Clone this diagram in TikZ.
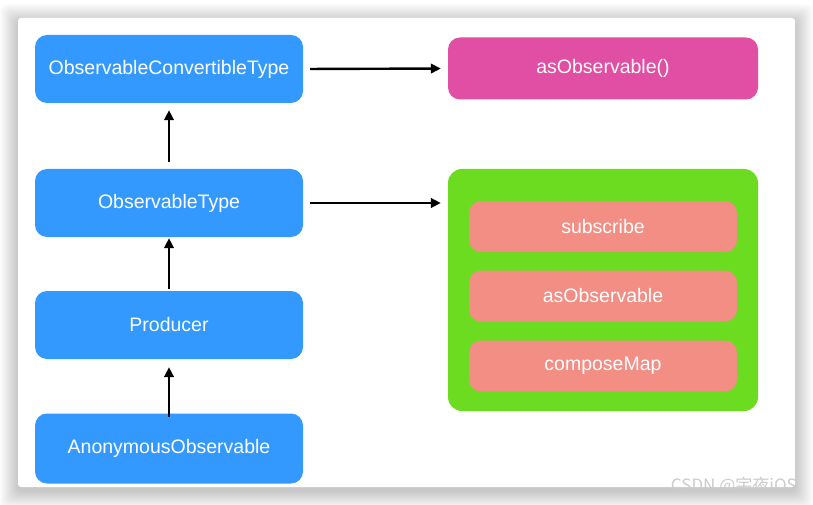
\documentclass[tikz,border=0pt]{standalone}
\usepackage{fontspec}
\setmainfont{Liberation Sans}
\newfontfamily\cjkfont{Noto Sans CJK SC}
\usetikzlibrary{arrows.meta}

\definecolor{typeblue}{RGB}{51,153,255}
\definecolor{convpink}{RGB}{224,79,163}
\definecolor{protogreen}{RGB}{107,220,31}
\definecolor{methodred}{RGB}{242,142,132}

\begin{document}
\begin{tikzpicture}[x=1pt, y=-1pt,
        typebox/.style={fill=typeblue, rounded corners=12pt, minimum width=268pt, text=white,
            font=\fontsize{19.5}{23}\selectfont, inner sep=0pt},
        methodbox/.style={fill=methodred, rounded corners=12pt, minimum width=268pt, minimum height=51pt,
            text=white, font=\fontsize{19.5}{23}\selectfont, inner sep=0pt},
        link/.style={-{Triangle[length=10pt, width=9.5pt]}, line width=2.4pt}]
        \useasboundingbox (0,0) rectangle (813,505);
        \fill[white] (0,0) rectangle (813,505);
        % Card shadow
        \foreach \s in {1,...,18}
            \fill[black, opacity=0.011, rounded corners=6pt] (18-\s,18-\s+4) rectangle (795+\s,487+\s+4);
        \fill[white, rounded corners=3pt] (18,18) rectangle (795,487);
        % Type chain on the left
        \node[typebox, minimum height=68pt] (conv) at (169,69) {ObservableConvertibleType};
        \node[typebox, minimum height=68pt] (otype) at (169,203) {ObservableType};
        \node[typebox, minimum height=68pt] (prod) at (169,325) {Producer};
        \node[typebox, minimum height=70pt] (anon) at (169,448.5) {AnonymousObservable};
        % What each protocol offers
        \node[fill=convpink, rounded corners=12pt, minimum width=310pt, minimum height=62pt, text=white,
            font=\fontsize{19.5}{23}\selectfont, inner sep=0pt] (asobs) at (603,68.5) {asObservable()};
        \node[fill=protogreen, rounded corners=14pt, minimum width=310pt, minimum height=242pt,
            inner sep=0pt] (group) at (603,290) {};
        \node[methodbox] (subs) at (603,226.5) {subscribe};
        \node[methodbox] (asobs2) at (603,296) {asObservable};
        \node[methodbox] (cmap) at (603,366) {composeMap};
        % Inheritance arrows
        \draw[link, shorten <=7pt, shorten >=7pt] (otype.north) -- (conv.south);
        \draw[link, shorten <=2pt, shorten >=1pt] (prod.north) -- (otype.south);
        \draw[link, shorten <=-4pt, shorten >=8pt] (anon.north) -- (prod.south);
        % Arrows to the right
        \draw[link, shorten <=7pt, shorten >=7pt] (conv.east) -- (asobs.west);
        \draw[link, shorten <=7pt, shorten >=7pt] (otype.east) -- (otype.east -| group.west);
        % Watermark
        \node[text=black!20, font=\cjkfont\fontsize{17}{20}\selectfont, anchor=east, inner sep=0pt] (mark) at (797,486) {CSDN @宇夜iOS};
    \end{tikzpicture}
\end{document}
